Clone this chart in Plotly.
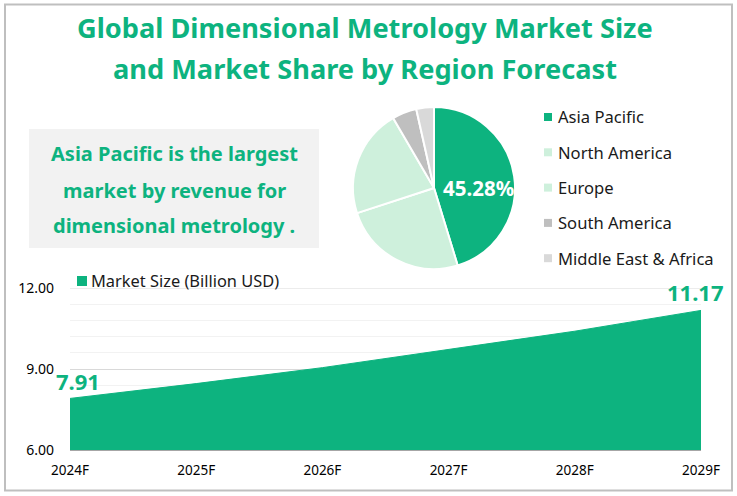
import plotly.graph_objects as go

W, H = 737, 496
FONT = "Noto Sans"
GREEN = "#0DB37F"

# Data
regions = ["Asia Pacific", "North America", "Europe", "South America", "Middle East & Africa"]
shares = [45.28, 24.7, 21.6, 4.9, 3.52]
region_colors = ["#0DB37F", "#CEF0DC", "#CEF0DC", "#BFBFBF", "#D9D9D9"]
years = ["2024F", "2025F", "2026F", "2027F", "2028F", "2029F"]
market_size = [7.91, 8.46, 9.05, 9.73, 10.40, 11.17]
y_max = 12
title_lines = ["Global Dimensional Metrology Market Size", "and Market Share by Region Forecast"]
callout_lines = ["Asia Pacific is the largest", "market by revenue for", "dimensional metrology ."]
series_name = "Market Size (Billion USD)"


def px(x):
    return x / W


def py(y):
    return 1 - y / H


fig = go.Figure()
fig.add_trace(go.Scatter(
    x=years, y=market_size, mode="lines", fill="tozeroy",
    fillcolor=GREEN, line=dict(color=GREEN, width=1), name=series_name,
    showlegend=False, hoverinfo="x+y",
))
fig.add_trace(go.Pie(
    labels=regions, values=shares, sort=False, direction="clockwise", rotation=0,
    marker=dict(colors=region_colors, line=dict(color="white", width=2)),
    domain=dict(x=[px(353), px(515)], y=[py(269), py(107)]),
    textinfo="none", showlegend=False,
))

shapes = [
    dict(type="rect", xref="paper", yref="paper", x0=px(5), x1=px(732), y0=py(4.5), y1=py(490.5),
         line=dict(color="#BFBFBF", width=2), fillcolor="rgba(0,0,0,0)", layer="below"),
    dict(type="rect", xref="paper", yref="paper", x0=px(29), x1=px(319), y0=py(129), y1=py(248),
         line=dict(width=0), fillcolor="#F2F2F2", layer="below"),
    dict(type="rect", xref="paper", yref="paper", x0=px(77), x1=px(87), y0=py(276), y1=py(286),
         line=dict(width=0), fillcolor=GREEN),
    # the gridline at the top of the range, which plotly leaves out at an axis end
    dict(type="line", xref="x domain", yref="y", x0=0, x1=1, y0=y_max, y1=y_max,
         line=dict(color="#D9D9D9", width=1), layer="below"),
]
annotations = []


def note(text, x, y, size, color="black", bold=False, anchor="center"):
    annotations.append(dict(
        text=f"<b>{text}</b>" if bold else text, xref="paper", yref="paper",
        x=px(x), y=py(y), xanchor=anchor, yanchor="middle", showarrow=False,
        font=dict(family=FONT, size=size, color=color),
    ))


for text, y in zip(title_lines, [28, 68]):
    note(text, 364.5, y, 27.2, GREEN, True)
for text, y in zip(callout_lines, [153, 190, 226]):
    note(text, 174, y, 20, GREEN, True)
for i, (name, color) in enumerate(zip(regions, region_colors)):
    y = 117 + i * 35.3
    shapes.append(dict(type="rect", xref="paper", yref="paper", x0=px(544), x1=px(552),
                       y0=py(y - 4), y1=py(y + 4), line=dict(width=0), fillcolor=color))
    note(name, 556, y, 16.6, "#1a1a1a", anchor="left")
note(series_name, 89, 280, 16.4, "#1a1a1a", anchor="left")
note(f"{shares[0]:.2f}%", 478, 188, 20.5, "white", True)

annotations.append(dict(text=f"<b>{market_size[0]:.2f}</b>", x=years[0], y=market_size[0], xref="x", yref="y",
                        showarrow=False, xshift=8, yshift=17, font=dict(family=FONT, size=22, color=GREEN)))
annotations.append(dict(text=f"<b>{market_size[-1]:.2f}</b>", x=years[-1], y=market_size[-1], xref="x", yref="y",
                        showarrow=False, xshift=-6, yshift=18, font=dict(family=FONT, size=22, color=GREEN)))

fig.update_layout(
    width=W, height=H, margin=dict(l=0, r=0, t=0, b=0, autoexpand=False),
    paper_bgcolor="white", plot_bgcolor="white",
    font=dict(family=FONT, size=14, color="black"),
    shapes=shapes, annotations=annotations,
    xaxis=dict(domain=[px(70), px(701)], type="category", range=[0, 5], showgrid=False,
               showline=True, linecolor="#A6A6A6", linewidth=1, ticks="",
               tickfont=dict(family=FONT, size=13.5), ticklabelstandoff=8),
    yaxis=dict(domain=[py(450), py(288)], range=[6, y_max], tickvals=[6, 9, 12], tickformat=".2f",
               showgrid=True, gridcolor="#D9D9D9", gridwidth=1, zeroline=False, ticks="",
               tickfont=dict(family=FONT, size=14), ticklabelstandoff=15,
               minor=dict(dtick=0.6, tick0=6, showgrid=True, gridcolor="#F2F2F2", gridwidth=1)),
)

fig.write_html("out.html", config=dict(displayModeBar=False),
               post_script="document.body.style.margin='0';")
